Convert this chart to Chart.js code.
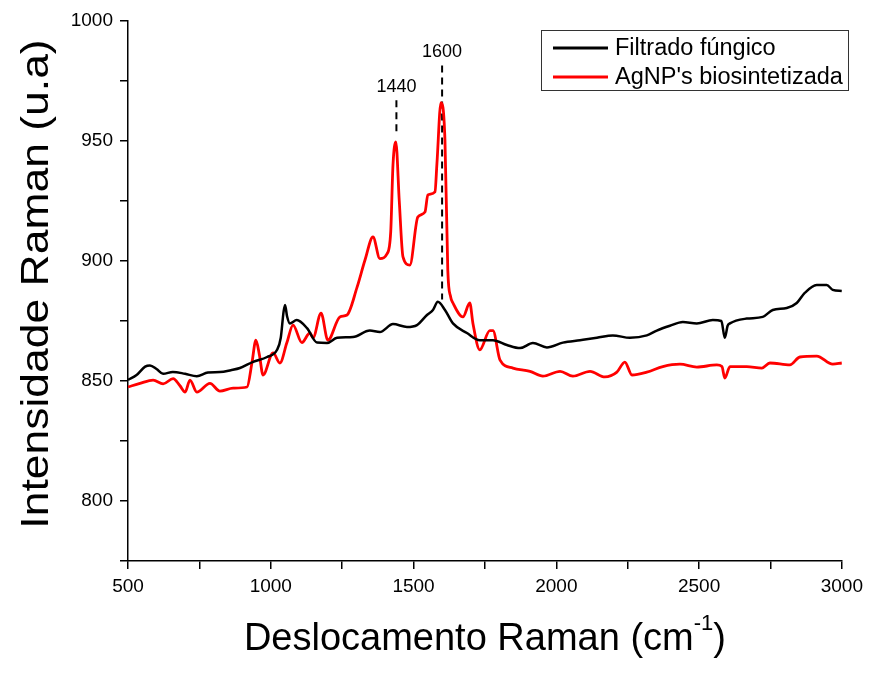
<!DOCTYPE html>
<html>
<head>
<meta charset="utf-8">
<script src="https://cdn.jsdelivr.net/npm/chart.js@4"></script>
<style>
  body { margin: 0; background: #fff; }
  #wrap { width: 869px; height: 674px; }
</style>
</head>
<body>
<div id="wrap"><canvas id="ramanChart" width="869" height="674"></canvas></div>
<script>
// Filtrado fúngico
const blackX = [500,530,560,577,600,623,657,700,741,780,822,860,892,938,987,1022,1035,1045,1050,1057,1067,1091,1127,1162,1197,1232,1288,1347,1382,1428,1477,1512,1547,1568,1585,1610,1638,1687,1732,1778,1827,1873,1918,1967,2023,2083,2142,2198,2258,2317,2352,2398,2443,2492,2548,2578,2590,2600,2608,2667,2723,2758,2807,2842,2870,2912,2947,2968,3000];
const blackY = [850.5,852.5,856,856.5,855,853,853.8,853,852,853.5,853.7,854.5,855.4,858,860,863,868,879,881.7,877,874,875.4,872,866,865.8,868,868.3,871,870.4,873.7,872.5,873.3,877.5,879.6,883,879.6,874,870,867,867,865,863.7,865.8,864,866,867,868,869,868,869,871,873,874.6,874,875.4,875,868,873,874,876,876.7,879.6,880.4,882.5,886.7,890,890,888,887.5];

// AgNP's biosintetizada
const redX = [500,542,588,623,658,682,700,717,741,787,822,868,917,934,948,960,973,1008,1032,1056,1078,1109,1137,1148,1176,1200,1242,1267,1302,1330,1358,1382,1407,1420,1428,1438,1450,1463,1487,1515,1540,1550,1575,1582,1596,1610,1620,1630,1638,1673,1697,1708,1732,1767,1778,1803,1848,1908,1953,2013,2058,2118,2170,2212,2240,2265,2317,2373,2433,2492,2562,2580,2590,2608,2667,2720,2748,2818,2853,2912,2968,3000];
const redY = [847.5,849,850.4,848.8,851,848,845.4,850.4,845.4,849,845.8,847,847.5,857.5,867,861,852.5,861.7,857.5,865.8,873.3,866,870,868,878.3,867,876.7,877.5,889,900.4,910,901,903,912,940,949.6,925,901.7,898.3,918.3,920.4,927.5,928.8,940.8,966,950.4,896,885,882.5,876.7,882.5,874,863,871,871,858.7,855.4,854,852,854,852,854,851.7,853.7,857.9,852.5,853.7,856,857,855.8,856.7,856,851.25,856,856,855.4,857.5,856.7,860,860.4,857,857.5];

// peak markers
const peakPos = [1440, 1600];
const peakTop = [967, 981.5];
const peakBottom = [954, 884];

const xTicks = [500, 1000, 1500, 2000, 2500, 3000];
const yTicks = [800, 850, 900, 950, 1000];

function toPoints(xs, ys) {
    return xs.map(function(x, i) { return { x: x, y: ys[i] }; });
}

const FONT = "'Liberation Sans', Arial, sans-serif";

const datasets = [
    {
        label: 'Filtrado fúngico',
        data: toPoints(blackX, blackY),
        borderColor: '#000000',
        borderWidth: 2.5,
        pointRadius: 0,
        cubicInterpolationMode: 'monotone'
    },
    {
        label: "AgNP's biosintetizada",
        data: toPoints(redX, redY),
        borderColor: '#ff0000',
        borderWidth: 2.8,
        pointRadius: 0,
        cubicInterpolationMode: 'monotone'
    }
];
peakPos.forEach(function(p, i) {
    datasets.push({
        label: 'peak' + p,
        data: [{ x: p, y: peakTop[i] }, { x: p, y: peakBottom[i] }],
        borderColor: '#000000',
        borderWidth: 2,
        borderDash: [7, 5],
        pointRadius: 0
    });
});

const textPlugin = {
    id: 'textPlugin',
    afterDraw: function(chart) {
        const ctx = chart.ctx;
        const xs = chart.scales.x, ys = chart.scales.y;
        ctx.save();
        ctx.fillStyle = '#000';

        // peak labels
        ctx.font = '18px ' + FONT;
        ctx.textAlign = 'center';
        ctx.textBaseline = 'bottom';
        peakPos.forEach(function(p, i) {
            ctx.fillText(String(p), xs.getPixelForValue(p), ys.getPixelForValue(peakTop[i]) - 4);
        });

        // y title (stretched along its length like the original)
        ctx.save();
        ctx.translate(38, 284);
        ctx.rotate(-Math.PI / 2);
        ctx.scale(1.17, 1);
        ctx.font = '38px ' + FONT;
        ctx.textAlign = 'center';
        ctx.textBaseline = 'middle';
        ctx.fillText('Intensidade Raman (u.a)', 0, 0);
        ctx.restore();

        // x title with superscript
        ctx.textBaseline = 'alphabetic';
        ctx.textAlign = 'left';
        const main = 'Deslocamento Raman (cm';
        const sup = '-1';
        const end = ')';
        ctx.font = '38px ' + FONT;
        const wMain = ctx.measureText(main).width;
        const wEnd = ctx.measureText(end).width;
        ctx.font = '22px ' + FONT;
        const wSup = ctx.measureText(sup).width;
        let x0 = (chart.chartArea.left + chart.chartArea.right) / 2 - (wMain + wSup + wEnd) / 2;
        const base = 650;
        ctx.font = '38px ' + FONT;
        ctx.fillText(main, x0, base);
        ctx.font = '22px ' + FONT;
        ctx.fillText(sup, x0 + wMain, base - 20);
        ctx.font = '38px ' + FONT;
        ctx.fillText(end, x0 + wMain + wSup, base);

        // legend box
        ctx.strokeStyle = '#333';
        ctx.lineWidth = 1;
        ctx.strokeRect(541.5, 30.5, 307, 60);
        ctx.font = '23.5px ' + FONT;
        ctx.textBaseline = 'middle';
        [0, 1].forEach(function(i) {
            const ds = chart.data.datasets[i];
            const yy = 48 + i * 29;
            ctx.strokeStyle = ds.borderColor;
            ctx.lineWidth = 3;
            ctx.beginPath();
            ctx.moveTo(553, yy);
            ctx.lineTo(608, yy);
            ctx.stroke();
            ctx.fillText(ds.label, 615, yy + 1);
        });
        ctx.restore();
    }
};

new Chart(document.getElementById('ramanChart').getContext('2d'), {
    type: 'line',
    data: { datasets: datasets },
    options: {
        responsive: false,
        animation: false,
        layout: { padding: { top: 21, right: 27, left: 0, bottom: 0 } },
        plugins: {
            legend: { display: false },
            tooltip: { enabled: false }
        },
        scales: {
            x: {
                type: 'linear',
                min: 500,
                max: 3000,
                afterFit: function(scale) { scale.height = 113; },
                border: { display: true, color: '#000', width: 1.5 },
                grid: { drawOnChartArea: false, drawTicks: true, tickLength: 8, color: '#000', lineWidth: 1.5 },
                ticks: {
                    stepSize: 250,
                    autoSkip: false,
                    maxRotation: 0,
                    color: '#000',
                    padding: 6,
                    font: { family: FONT, size: 19 },
                    callback: function(v) { return xTicks.indexOf(v) >= 0 ? String(v) : ''; }
                }
            },
            y: {
                min: 775,
                max: 1000,
                afterFit: function(scale) { scale.width = 128; },
                border: { display: true, color: '#000', width: 1.5 },
                grid: { drawOnChartArea: false, drawTicks: true, tickLength: 8, color: '#000', lineWidth: 1.5 },
                ticks: {
                    stepSize: 25,
                    autoSkip: false,
                    color: '#000',
                    padding: 7,
                    font: { family: FONT, size: 19 },
                    callback: function(v) { return yTicks.indexOf(v) >= 0 ? String(v) : ''; }
                }
            }
        }
    },
    plugins: [textPlugin]
});
</script>
</body>
</html>
